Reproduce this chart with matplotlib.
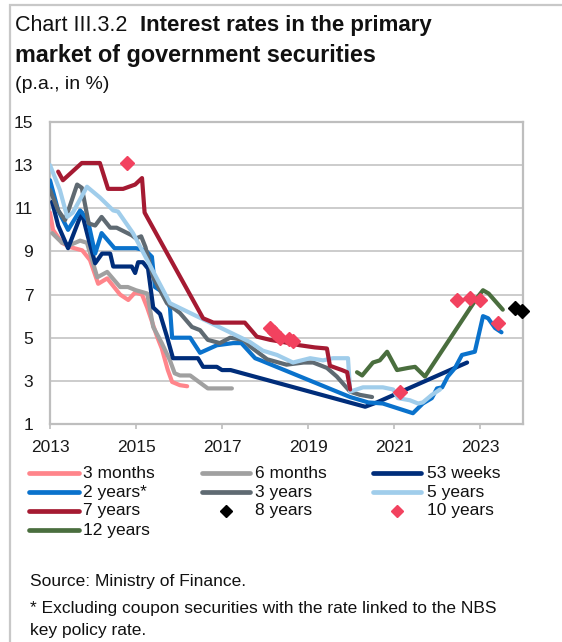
import matplotlib
matplotlib.use("Agg")
import matplotlib.pyplot as plt
from matplotlib.lines import Line2D
from matplotlib.patches import Rectangle

plt.rcParams['font.family'] = ['Liberation Sans', 'DejaVu Sans']

# ---- data (decimal years, % p.a.) ----
t_3m = [2013.0, 2013.07, 2013.28, 2013.47, 2013.75, 2013.93, 2014.12, 2014.33, 2014.63, 2014.82,
        2014.98, 2015.14, 2015.26, 2015.49, 2015.6, 2015.74, 2015.84, 2016.02, 2016.19]
v_3m = [10.8, 10.0, 9.4, 9.2, 9.05, 8.6, 7.5, 7.75, 7.0, 6.75,
        7.1, 7.0, 6.4, 5.05, 4.5, 3.5, 2.95, 2.8, 2.75]

t_6m = [2013.05, 2013.28, 2013.47, 2013.7, 2013.86, 2014.1, 2014.33, 2014.63, 2014.81, 2015.0,
        2015.26, 2015.4, 2015.6, 2015.79, 2015.9, 2016.02, 2016.26, 2016.67, 2017.23]
v_6m = [9.85, 9.4, 9.3, 9.5, 9.4, 7.8, 8.05, 7.35, 7.35, 7.2,
        7.05, 5.5, 4.75, 3.95, 3.35, 3.25, 3.25, 2.65, 2.65]

t_53w = [2013.05, 2013.19, 2013.42, 2013.74, 2013.88, 2014.05, 2014.21, 2014.4, 2014.47, 2014.9,
         2014.98, 2015.05, 2015.16, 2015.28, 2015.4, 2015.56, 2015.72, 2015.86, 2016.44, 2016.56,
         2016.88, 2017.0, 2017.2, 2020.33, 2020.6, 2022.7]
v_53w = [11.3, 10.2, 9.15, 10.8, 9.7, 8.45, 8.9, 8.9, 8.3, 8.3,
         8.0, 8.5, 8.5, 8.2, 6.4, 6.1, 5.05, 4.05, 4.05, 3.65,
         3.65, 3.5, 3.5, 1.8, 2.0, 3.85]

t_2y = [2013.0, 2013.19, 2013.42, 2013.7, 2013.88, 2014.05, 2014.2, 2014.5, 2015.0, 2015.22,
        2015.37, 2015.44, 2015.63, 2015.79, 2015.84, 2016.26, 2016.49, 2016.88, 2017.26, 2017.45,
        2017.77, 2017.9, 2019.98, 2020.4, 2020.74, 2021.44, 2021.67, 2021.88, 2022.0, 2022.12,
        2022.25, 2022.42, 2022.58, 2022.88, 2023.07, 2023.19, 2023.35, 2023.5]
v_2y = [12.3, 10.9, 10.0, 10.9, 10.45, 8.9, 9.85, 9.15, 9.15, 9.05,
        8.75, 7.35, 7.1, 6.4, 5.0, 5.0, 4.3, 4.65, 4.75, 4.75,
        4.05, 3.95, 2.25, 2.0, 1.95, 1.5, 1.95, 2.2, 2.65, 2.7,
        3.2, 3.6, 4.2, 4.35, 6.0, 5.9, 5.45, 5.25]

t_3y = [2013.0, 2013.19, 2013.35, 2013.63, 2013.74, 2013.9, 2014.05, 2014.2, 2014.4, 2014.55,
        2014.9, 2015.0, 2015.12, 2015.22, 2015.4, 2015.72, 2016.02, 2016.3, 2016.49, 2016.67,
        2016.95, 2017.19, 2017.5, 2017.65, 2018.05, 2018.5, 2018.9, 2019.12, 2019.44, 2019.67,
        2019.98, 2020.21, 2020.49]
v_3y = [11.85, 10.9, 10.45, 12.1, 11.95, 10.3, 10.2, 10.6, 10.1, 10.1,
        9.75, 9.6, 9.7, 9.2, 7.8, 6.6, 6.15, 5.5, 5.35, 4.9,
        4.75, 5.0, 4.9, 4.6, 4.0, 3.75, 3.85, 3.85, 3.6, 3.2,
        2.5, 2.35, 2.25]

t_5y = [2013.0, 2013.23, 2013.4, 2013.53, 2013.86, 2014.16, 2014.47, 2014.58, 2014.93, 2015.79,
        2017.65, 2017.95, 2018.28, 2018.65, 2019.05, 2019.35, 2019.58, 2019.93, 2019.98, 2020.28,
        2020.74, 2020.98, 2021.09, 2021.37, 2021.56, 2021.67, 2021.88, 2022.07]
v_5y = [13.0, 11.85, 10.6, 10.8, 12.0, 11.5, 10.9, 10.85, 9.85, 6.6,
        4.8, 4.4, 4.2, 3.85, 4.05, 3.95, 4.05, 4.05, 2.5, 2.7,
        2.7, 2.6, 2.2, 2.1, 1.95, 2.0, 2.35, 2.6]

t_7y = [2013.19, 2013.3, 2013.74, 2014.16, 2014.35, 2014.7, 2014.98, 2015.14, 2015.2, 2016.56,
        2016.8, 2017.53, 2017.81, 2018.12, 2018.42, 2018.81, 2019.16, 2019.44, 2019.51, 2019.79,
        2019.91, 2019.98]
v_7y = [12.7, 12.3, 13.1, 13.1, 11.9, 11.9, 12.1, 12.4, 10.8, 5.9,
        5.7, 5.7, 5.05, 4.9, 4.8, 4.65, 4.55, 4.5, 3.7, 3.5,
        3.4, 2.6]

t_8y = [2023.81, 2023.98]
v_8y = [6.4, 6.25]

t_10y = [2014.79, 2018.12, 2018.2, 2018.35, 2018.55, 2018.65, 2021.14, 2022.47, 2022.77, 2023.0, 2023.42]
v_10y = [13.1, 5.45, 5.25, 5.0, 4.95, 4.85, 2.5, 6.75, 6.85, 6.75, 5.7]

t_12y = [2020.14, 2020.26, 2020.51, 2020.67, 2020.84, 2021.07, 2021.33, 2021.49, 2021.72,
         2022.93, 2023.07, 2023.2, 2023.53]
v_12y = [3.4, 3.25, 3.85, 3.95, 4.35, 3.5, 3.6, 3.65, 3.2,
         6.85, 7.2, 7.05, 6.3]

x_ticks = [2013, 2015, 2017, 2019, 2021, 2023]
y_ticks = [1, 3, 5, 7, 9, 11, 13, 15]

# ---- styles ----
C_3M = '#FF858B'
C_6M = '#A0A0A0'
C_53W = '#002D7A'
C_2Y = '#0A72CC'
C_3Y = '#5F6A72'
C_5Y = '#A0CDEB'
C_7Y = '#A51A32'
C_8Y = '#000000'
C_10Y = '#F2425F'
C_12Y = '#4A6E3E'
GRID = '#C8C8C8'

W, H = 562, 642
fig = plt.figure(figsize=(W / 100, H / 100), dpi=100)


def fx(px):
    return px / W


def fy(py):
    return 1 - py / H


# outer frame
fig.add_artist(Rectangle((fx(10), fy(700)), fx(600), fy(5) - fy(700),
                         transform=fig.transFigure, fill=False,
                         edgecolor='#C8C8C8', lw=1.6))

ax = fig.add_axes([fx(50), fy(424), fx(523) - fx(50), fy(122) - fy(424)])
LW = 3.0
MS = 7

series = [
    (t_3m, v_3m, C_3M),
    (t_6m, v_6m, C_6M),
    (t_53w, v_53w, C_53W),
    (t_2y, v_2y, C_2Y),
    (t_3y, v_3y, C_3Y),
    (t_5y, v_5y, C_5Y),
    (t_7y, v_7y, C_7Y),
    (t_12y, v_12y, C_12Y),
]
for t, v, c in series:
    ax.plot(t, v, color=c, lw=LW, solid_joinstyle='round', solid_capstyle='round', zorder=3)

ax.plot(t_10y, v_10y, ls='none', marker='D', ms=MS, color=C_10Y, mec=C_10Y, zorder=4,
        clip_on=False)
ax.plot(t_8y, v_8y, ls='none', marker='D', ms=MS, color=C_8Y, mec=C_8Y, zorder=4,
        clip_on=False)

ax.set_xlim(2013, 2024)
ax.set_ylim(1, 15)
ax.set_xticks(x_ticks)
ax.set_xticklabels([str(x) for x in x_ticks])
ax.set_yticks(y_ticks)
ax.set_yticklabels([str(y) for y in y_ticks])
ax.yaxis.grid(True, color=GRID, lw=1.3, zorder=0)
ax.set_axisbelow(True)
for s in ax.spines.values():
    s.set_color('#BEBEBE')
    s.set_linewidth(1.6)
ax.tick_params(axis='x', length=3.5, width=1.2, color='#BEBEBE', pad=8,
               labelsize=12.5, labelcolor='#1a1a1a')
ax.tick_params(axis='y', length=0, pad=12, labelsize=12.5, labelcolor='#1a1a1a')

# ---- titles ----
fig.text(fx(15), fy(31), 'Chart III.3.2', fontsize=15.5, color='#111111', va='baseline')
fig.text(fx(140), fy(31), 'Interest rates in the primary', fontsize=16,
         fontweight='bold', color='#111111', va='baseline')
fig.text(fx(15), fy(62), 'market of government securities', fontsize=16.8,
         fontweight='bold', color='#111111', va='baseline')
fig.text(fx(15), fy(89), '(p.a., in %)', fontsize=14, color='#111111', va='baseline')

# ---- legend (row-major, three columns) ----
legend_rows = [
    [('3 months', C_3M, 'line'), ('6 months', C_6M, 'line'), ('53 weeks', C_53W, 'line')],
    [('2 years*', C_2Y, 'line'), ('3 years', C_3Y, 'line'), ('5 years', C_5Y, 'line')],
    [('7 years', C_7Y, 'line'), ('8 years', C_8Y, 'marker'), ('10 years', C_10Y, 'marker')],
    [('12 years', C_12Y, 'line')],
]
col_x = [(29, 79, 83), (202, 250, 255), (373, 421, 427)]
row_y = [473, 492, 511, 530]
for r, row in enumerate(legend_rows):
    for c, (label, color, kind) in enumerate(row):
        x0, x1, xt = col_x[c]
        y = row_y[r]
        if kind == 'line':
            fig.add_artist(Line2D([fx(x0), fx(x1)], [fy(y), fy(y)], transform=fig.transFigure,
                                  color=color, lw=3.4, solid_capstyle='round'))
        else:
            fig.add_artist(Line2D([fx((x0 + x1) / 2)], [fy(y)], transform=fig.transFigure,
                                  ls='none', marker='D', ms=6, color=color, mec=color))
        fig.text(fx(xt), fy(y), label, fontsize=12.5, color='#111111', va='center')

# ---- notes ----
fig.text(fx(30), fy(586), 'Source: Ministry of Finance.', fontsize=12.5, color='#111111', va='baseline')
fig.text(fx(30), fy(613), '* Excluding coupon securities with the rate linked to the NBS',
         fontsize=12.5, color='#111111', va='baseline')
fig.text(fx(30), fy(635), 'key policy rate.', fontsize=12.5, color='#111111', va='baseline')

fig.savefig('out.png', dpi=100)
